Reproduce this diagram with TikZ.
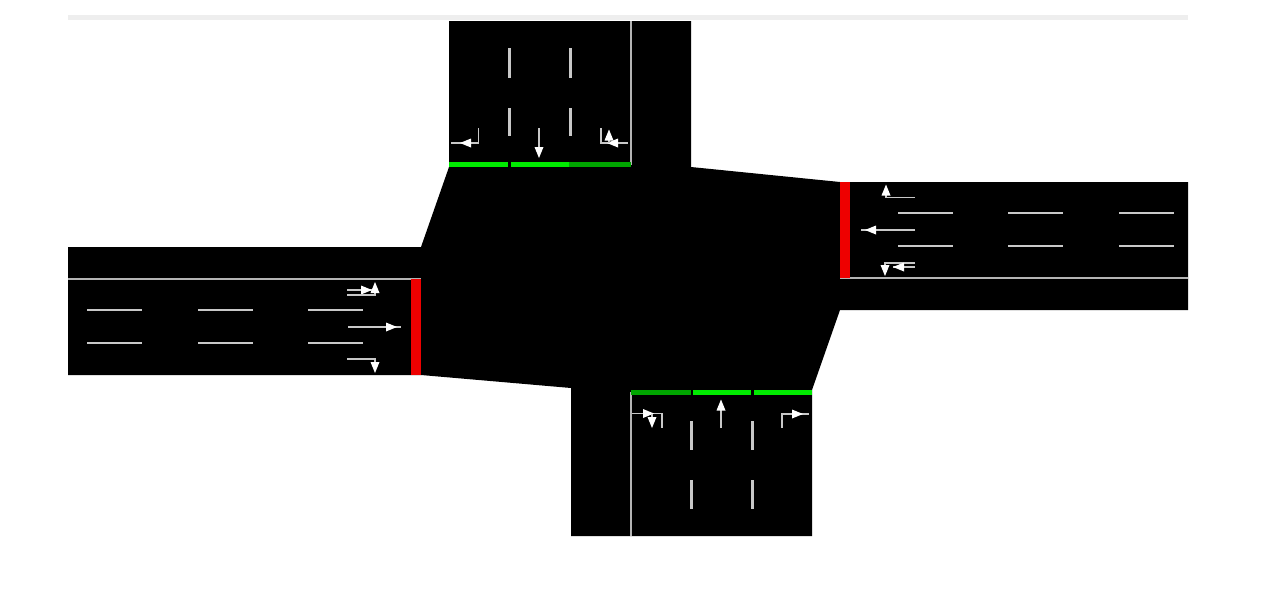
\documentclass[tikz,border=0pt]{standalone}
\usetikzlibrary{arrows.meta}
\definecolor{lanegrey}{RGB}{200,200,200}
\definecolor{curbgrey}{RGB}{180,180,180}
\definecolor{sigred}{RGB}{238,0,0}
\definecolor{siggreen}{RGB}{0,235,0}
\definecolor{siggreendim}{RGB}{0,165,0}
\definecolor{barline}{RGB}{238,238,238}
\tikzset{
  road/.style={fill=black,draw=none},
  curb/.style={draw=curbgrey,line width=2.6pt},
  dashline/.style={draw=lanegrey,line width=1.5pt},
  dashthick/.style={draw=lanegrey,line width=3pt},
  lanemark/.style={draw=lanegrey,line width=1.8pt,line join=miter},
  ahd/.pic={\fill[white] (0,0) -- (-11,4.5) -- (-11,-4.5) -- cycle;},
}
\begin{document}
\begin{tikzpicture}[x=1pt,y=-1pt]
\useasboundingbox (0,0) rectangle (1288,600);
\fill[white] (0,0) rectangle (1288,600);
% top bar
\fill[barline] (68,15) rectangle (1188,19.5);
% road surface
\fill[road] (449,21) -- (691,21) -- (691,167) -- (840,182) -- (1188,182) -- (1188,310) -- (840,310)
  -- (812,390) -- (812,536) -- (571,536) -- (571,388) -- (421,375) -- (68,375) -- (68,247)
  -- (421,247) -- (449,167) -- cycle;
% centre lines
\draw[curb] (68,279) -- (421,279);
\draw[curb] (840,278) -- (1188,278);
\draw[curb] (631,21) -- (631,165);
\draw[curb] (631,392) -- (631,536);
% lane dashes: west
\foreach \y in {310,343}\foreach \a/\b in {87/142,198/253,308/363}\draw[dashline] (\a,\y) -- (\b,\y);
% lane dashes: east
\foreach \y in {213,246}\foreach \a/\b in {898/953,1008/1063,1119/1174}\draw[dashline] (\a,\y) -- (\b,\y);
% lane dashes: north
\foreach \x in {509,570}\foreach \a/\b in {48/78,108/136}\draw[dashthick] (\x,\a) -- (\x,\b);
% lane dashes: south
\foreach \x in {691,752}\foreach \a/\b in {421/450,480/509}\draw[dashthick] (\x,\a) -- (\x,\b);
% signals
\fill[sigred] (411,279) rectangle (421,375);
\fill[sigred] (840,182) rectangle (850,278);
\fill[siggreen] (449,162) rectangle (508,166.5);
\fill[siggreen] (511,162) rectangle (569,166.5);
\fill[siggreendim] (569,162) rectangle (631,166.5);
\fill[siggreendim] (631,390) rectangle (691,394.5);
\fill[siggreen] (693,390) rectangle (751,394.5);
\fill[siggreen] (754,390) rectangle (812,394.5);
% west arrows
\draw[lanemark] (347,290) -- (372,290);
\pic[rotate=0] at (372,290) {ahd};
\draw[lanemark] (347,295) -- (375,295) -- (375,285);
\pic[rotate=90] at (375,282) {ahd};
\draw[lanemark] (348,327) -- (401,327);
\pic[rotate=0] at (397,327) {ahd};
\draw[lanemark] (347,359) -- (375,359) -- (375,370);
\pic[rotate=-90] at (375,373) {ahd};
% east arrows
\draw[lanemark] (915,197.5) -- (886,197.5) -- (886,188);
\pic[rotate=90] at (886,184.5) {ahd};
\draw[lanemark] (915,230) -- (861,230);
\pic[rotate=180] at (865,230) {ahd};
\draw[lanemark] (915,263) -- (885,263) -- (885,273);
\pic[rotate=-90] at (885,276) {ahd};
\draw[lanemark] (915,267) -- (893,267);
\pic[rotate=180] at (893,267) {ahd};
% north arrows
\draw[lanemark] (478.5,128) -- (478.5,143) -- (451,143);
\pic[rotate=180] at (460,143) {ahd};
\draw[lanemark] (539,128) -- (539,155);
\pic[rotate=-90] at (539,158) {ahd};
\draw[lanemark] (601,128) -- (601,143) -- (628,143);
\pic[rotate=180] at (607,143) {ahd};
\draw[lanemark] (609,143) -- (609,133);
\pic[rotate=90] at (609,129.5) {ahd};
% south arrows
\draw[lanemark] (721,428) -- (721,402);
\pic[rotate=90] at (721,399.5) {ahd};
\draw[lanemark] (782,428) -- (782,414) -- (809,414);
\pic[rotate=0] at (803,414) {ahd};
\draw[lanemark] (632,413.5) -- (662,413.5) -- (662,428);
\pic[rotate=0] at (654,413.5) {ahd};
\draw[lanemark] (652,414) -- (652,424);
\pic[rotate=-90] at (652,428) {ahd};
\end{tikzpicture}
\end{document}
